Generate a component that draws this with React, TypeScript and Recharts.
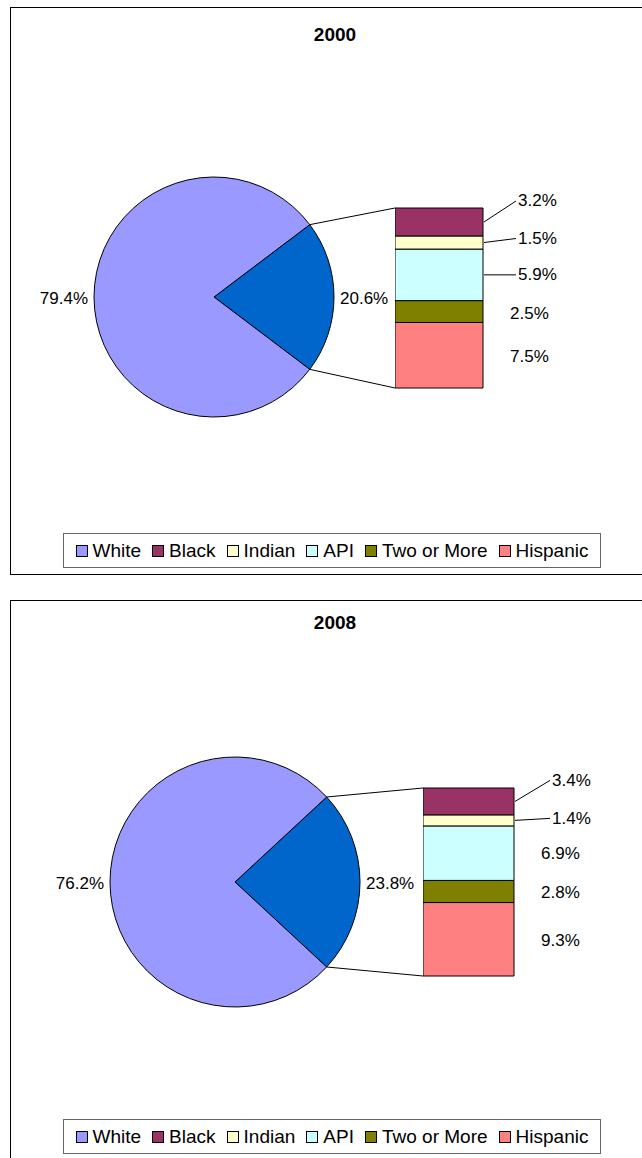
import React from 'react';
import { PieChart, Pie, Cell, BarChart, Bar, XAxis, YAxis } from 'recharts';

// Legend order / colours (Excel classic palette)
const GROUPS = ['White', 'Black', 'Indian', 'API', 'Two or More', 'Hispanic'];
const GROUP_COLORS = ['#9999FF', '#993366', '#FFFFCC', '#CCFFFF', '#808000', '#FF8080'];
const OTHER_COLOR = '#0066CC';

// Share of students, percent
const YEARS = ['2000', '2008'];
const WHITE_SHARE = [79.4, 76.2];
const BLACK_SHARE = [3.2, 3.4];
const INDIAN_SHARE = [1.5, 1.4];
const API_SHARE = [5.9, 6.9];
const TWO_SHARE = [2.5, 2.8];
const HISPANIC_SHARE = [7.5, 9.3];

const FONT = '"Liberation Sans", Arial, Helvetica, sans-serif';

// where each panel sits on the page
const PANELS = [
  {
    top: 7, height: 568, titleY: 35, cx: 214, cy: 297, r: 120,
    bar: { x: 395, y: 208, w: 88, h: 180 },
    legendY: 533,
    // label placement for Black, Indian, API, Two or More, Hispanic
    labels: [
      { dx: 35, dy: -21, line: true },
      { dx: 35, dy: -4, line: true },
      { dx: 35, dy: 0, line: true },
      { dx: 27, dy: 2, line: false },
      { dx: 27, dy: 1, line: false },
    ],
  },
  {
    top: 600, height: 700, titleY: 623, cx: 235, cy: 882, r: 125,
    bar: { x: 423, y: 788, w: 91, h: 188 },
    legendY: 1119,
    labels: [
      { dx: 38, dy: -21, line: true },
      { dx: 38, dy: -2, line: true },
      { dx: 27, dy: 0, line: false },
      { dx: 27, dy: 1, line: false },
      { dx: 27, dy: 1, line: false },
    ],
  },
];

const BAR_PAD = 30;
const LABEL_SPACE = 120;
const NO_MARGIN = { top: 0, right: 0, bottom: 0, left: 0 };

type Layout = (typeof PANELS)[number];

const fmt = (v: number) => `${Number(v).toFixed(1)}%`;

const segmentLabel = (cfg: { dx: number; dy: number; line: boolean }, value: number) => (props: any) => {
  const x = Number(props.x);
  const y = Number(props.y);
  const width = Number(props.width);
  const height = Number(props.height);
  const mid = y + height / 2;
  const right = x + width;
  const lx = right + cfg.dx;
  const ly = mid + cfg.dy;
  return (
    <g>
      {cfg.line && <line x1={right + 1} y1={mid} x2={lx - 2} y2={ly} stroke="#000" strokeWidth={1} />}
      <text x={lx} y={ly} dominantBaseline="central" textAnchor="start" fontSize={17} fontFamily={FONT} fill="#000">
        {fmt(value)}
      </text>
    </g>
  );
};

const PieOfBar: React.FC<{ idx: number; layout: Layout }> = ({ idx, layout }) => {
  const minority = [BLACK_SHARE[idx], INDIAN_SHARE[idx], API_SHARE[idx], TWO_SHARE[idx], HISPANIC_SHARE[idx]];
  const other = minority.reduce((a, b) => a + b, 0);
  const pieData = [
    { name: 'Other', value: other },
    { name: 'White', value: WHITE_SHARE[idx] },
  ];
  const barRow: Record<string, number | string> = { name: YEARS[idx] };
  GROUPS.slice(1).forEach((g, i) => (barRow[g] = minority[i]));

  const half = (other / 100) * 180;
  const start = half;
  const { cx, cy, r, bar } = layout;
  const rad = (half * Math.PI) / 180;
  const ex = cx + r * Math.cos(rad);
  const eyTop = cy - r * Math.sin(rad);
  const eyBot = cy + r * Math.sin(rad);

  // stack bottom-up: Hispanic first, Black last
  const stackOrder = [4, 3, 2, 1, 0];

  return (
    <>
      <div
        style={{
          position: 'absolute', left: 10, top: layout.top, width: 700, height: layout.height,
          border: '1px solid #000', boxSizing: 'border-box', background: '#fff',
        }}
      />
      <div
        style={{
          position: 'absolute', left: 10, width: 650, top: layout.titleY - 12, height: 24, lineHeight: '24px',
          textAlign: 'center', fontFamily: FONT, fontWeight: 'bold', fontSize: 19,
        }}
      >
        {YEARS[idx]}
      </div>
      <div style={{ position: 'absolute', left: 0, top: layout.top }}>
        <PieChart width={642} height={500} margin={NO_MARGIN}>
          <Pie
            data={pieData}
            dataKey="value"
            cx={cx}
            cy={cy - layout.top}
            outerRadius={r}
            startAngle={start}
            endAngle={start - 360}
            stroke="#000"
            strokeWidth={1}
            isAnimationActive={false}
            labelLine={false}
            label={(p: any) => {
              const m = (-Number(p.midAngle) * Math.PI) / 180;
              const right = Math.cos(m) >= 0;
              const x = Number(p.cx) + (r + 6) * Math.cos(m);
              const y = Number(p.cy) + (r + 6) * Math.sin(m) + 1;
              return (
                <text x={x} y={y} textAnchor={right ? 'start' : 'end'} dominantBaseline="central" fontSize={17} fontFamily={FONT} fill="#000">
                  {fmt(p.value)}
                </text>
              );
            }}
          >
            {pieData.map((d, i) => (
              <Cell key={i} fill={d.name === 'White' ? GROUP_COLORS[0] : OTHER_COLOR} />
            ))}
          </Pie>
        </PieChart>
      </div>
      <div style={{ position: 'absolute', left: bar.x, top: bar.y - BAR_PAD }}>
        <BarChart
          width={bar.w + LABEL_SPACE}
          height={bar.h + BAR_PAD * 2}
          data={[barRow]}
          margin={{ top: BAR_PAD, bottom: BAR_PAD, left: 0, right: LABEL_SPACE }}
          barCategoryGap={0}
        >
          <XAxis dataKey="name" hide />
          <YAxis type="number" domain={[0, other]} hide />
          {stackOrder.map((k) => (
            <Bar
              key={GROUPS[k + 1]}
              dataKey={GROUPS[k + 1]}
              stackId="s"
              fill={GROUP_COLORS[k + 1]}
              stroke="#000"
              strokeWidth={1}
              isAnimationActive={false}
              label={segmentLabel(layout.labels[k], minority[k])}
            />
          ))}
        </BarChart>
      </div>
      <svg style={{ position: 'absolute', left: 0, top: 0, pointerEvents: 'none' }} width={642} height={1158}>
        <line x1={ex} y1={eyTop} x2={bar.x} y2={bar.y} stroke="#000" strokeWidth={1} />
        <line x1={ex} y1={eyBot} x2={bar.x} y2={bar.y + bar.h} stroke="#000" strokeWidth={1} />
      </svg>
      <div
        style={{
          position: 'absolute', left: 63, top: layout.legendY, width: 538, height: 35, boxSizing: 'border-box',
          border: '1px solid #666', display: 'flex', alignItems: 'center', justifyContent: 'center',
          fontFamily: FONT, fontSize: 19, background: '#fff',
        }}
      >
        {GROUPS.map((g, i) => (
          <div key={g} style={{ display: 'flex', alignItems: 'center', marginRight: i < GROUPS.length - 1 ? 11 : 0 }}>
            <span
              style={{
                display: 'inline-block', width: 10, height: 10, border: '1px solid #000',
                background: GROUP_COLORS[i], marginRight: 5,
              }}
            />
            <span>{g}</span>
          </div>
        ))}
      </div>
    </>
  );
};

export default function App() {
  return (
    <div style={{ position: 'absolute', left: 0, top: 0, width: 642, height: 1158, overflow: 'hidden', background: '#fff' }}>
      {PANELS.map((p, i) => (
        <PieOfBar key={i} idx={i} layout={p} />
      ))}
    </div>
  );
}
